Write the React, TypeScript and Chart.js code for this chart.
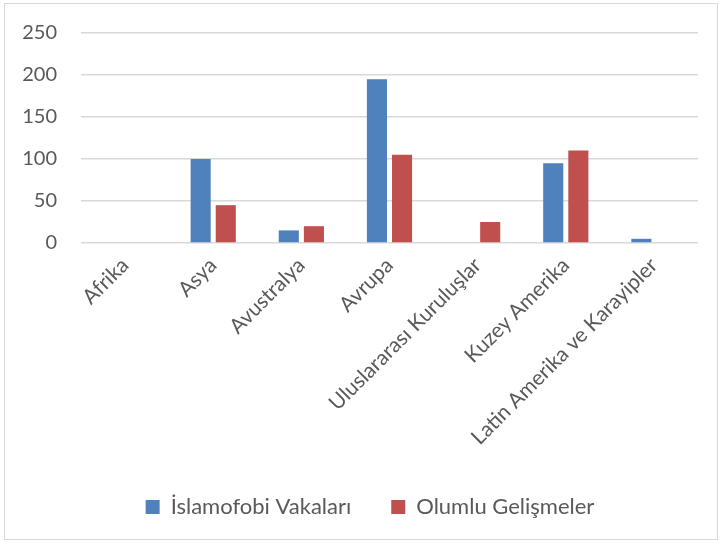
import React, { useEffect, useRef } from "react";
import { Chart, registerables } from "chart.js";

Chart.register(...registerables);

const categories = [
  "Afrika",
  "Asya",
  "Avustralya",
  "Avrupa",
  "Uluslararası Kuruluşlar",
  "Kuzey Amerika",
  "Latin Amerika ve Karayipler",
];
const islamofobiVakalari = [0, 100, 15, 195, 0, 95, 5];
const olumluGelismeler = [0, 45, 20, 105, 25, 110, 0];
const seriesNames = ["İslamofobi Vakaları", "Olumlu Gelişmeler"];

const FONT = "Lato, 'Open Sans', sans-serif";
const TEXT = "#595959";

const shiftLegend = {
  id: "shiftLegend",
  afterLayout(chart: any) {
    const l = chart.legend;
    if (l) {
      l.left += 21;
      l.right += 21;
    }
  },
};

export default function App() {
  const ref = useRef<HTMLCanvasElement | null>(null);
  useEffect(() => {
    document.body.style.margin = "0";
    const ctx = ref.current!;
    const chart = new Chart(ctx, {
      type: "bar",
      data: {
        labels: categories,
        datasets: [
          {
            label: seriesNames[0],
            data: islamofobiVakalari,
            backgroundColor: "#4F81BD",
            categoryPercentage: 0.57,
            barPercentage: 0.8,
          },
          {
            label: seriesNames[1],
            data: olumluGelismeler,
            backgroundColor: "#C0504D",
            categoryPercentage: 0.57,
            barPercentage: 0.8,
          },
        ],
      },
      options: {
        animation: false,
        responsive: false,
        maintainAspectRatio: false,
        layout: { padding: { top: 33, left: 0, right: 23, bottom: 17 } },
        plugins: {
          tooltip: { enabled: false },
          legend: {
            position: "bottom",
            labels: {
              boxWidth: 14,
              boxHeight: 14,
              padding: 40,
              color: TEXT,
              font: { family: FONT, size: 22 },
            },
          },
        },
        scales: {
          x: {
            grid: { display: false },
            border: { display: false },
            ticks: {
              color: TEXT,
              font: { family: FONT, size: 21 },
              maxRotation: 45,
              minRotation: 45,
              autoSkip: false,
              padding: 2,
            },
            afterFit: (s: any) => {
              s.height = 213;
            },
          },
          y: {
            min: 0,
            max: 250,
            ticks: {
              stepSize: 50,
              color: TEXT,
              font: { family: FONT, size: 20 },
              padding: 24,
            },
            grid: { color: "#d9d9d9", lineWidth: 1.5, drawTicks: false },
            border: { display: false },
            afterFit: (s: any) => {
              s.width = 81;
              s.paddingTop = 0;
              s.paddingBottom = 0;
            },
          },
        },
      },
      plugins: [shiftLegend],
    });
    return () => chart.destroy();
  }, []);
  return (
    <div style={{ position: "relative", width: 721, height: 545, background: "#fff" }}>
      <div
        style={{
          position: "absolute",
          left: 4,
          top: 3,
          width: 714,
          height: 537,
          border: "1px solid #d9d9d9",
          boxSizing: "border-box",
        }}
      />
      <canvas ref={ref} width={721} height={545} style={{ position: "absolute", left: 0, top: 0 }} />
    </div>
  );
}
